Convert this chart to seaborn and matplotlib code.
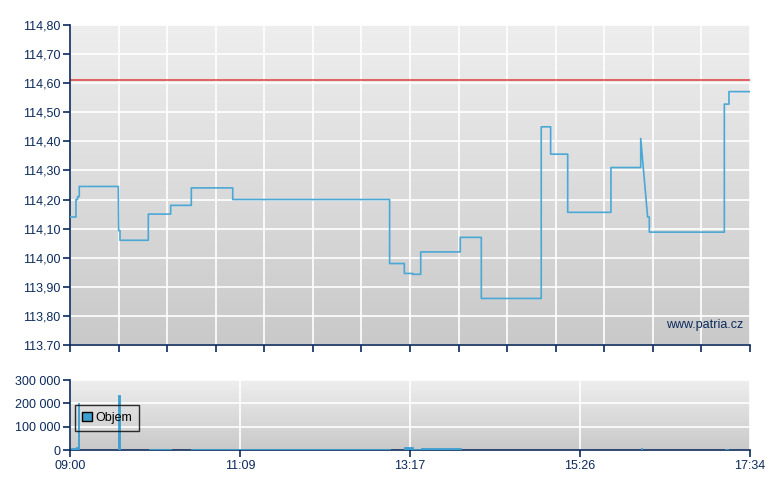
import numpy as np
import pandas as pd
import matplotlib
matplotlib.use('Agg')
import matplotlib.pyplot as plt
import seaborn as sns

# price path: minutes after 09:00 and price at each vertex
price_min = [0, 4.5, 4.5, 5.7, 5.7, 7.0, 7.0, 36.5, 36.8, 37.8, 37.8, 59.2, 59.2, 76.1, 76.1,
             91.7, 91.7, 123.0, 123.0, 241.6, 241.6, 252.7, 252.7, 259.0, 259.0, 265.1, 265.1,
             295.0, 295.0, 310.9, 310.9, 356.2, 356.2, 363.3, 363.3, 376.2, 376.2, 408.9, 408.9,
             431.4, 431.4, 436.6, 437.9, 437.9, 494.6, 494.6, 498.1, 498.1, 514.0]
price_val = [114.14, 114.14, 114.20, 114.20, 114.21, 114.21, 114.245, 114.245, 114.093, 114.093,
             114.06, 114.06, 114.15, 114.15, 114.18, 114.18, 114.24, 114.24, 114.20, 114.20,
             113.98, 113.98, 113.946, 113.946, 113.943, 113.943, 114.02, 114.02, 114.07, 114.07,
             113.86, 113.86, 114.45, 114.45, 114.356, 114.356, 114.156, 114.156, 114.31, 114.31,
             114.41, 114.14, 114.14, 114.088, 114.088, 114.528, 114.528, 114.571, 114.571]
prev_close = 114.61

# volume: start/end minute of each block and traded volume
vol_start = [0.8, 4.5, 6.0, 36.6, 59.7, 91.5, 252.5, 259.3, 265.3, 431.6, 495.0]
vol_end = [4.5, 6.0, 7.0, 37.6, 76.3, 242.0, 259.3, 265.3, 295.5, 432.6, 497.5]
vol_val = [7000, 11000, 201000, 236000, 3000, 3000, 13000, 3000, 8000, 8000, 5000]

time_labels = ['09:00', '11:09', '13:17', '15:26', '17:34']
price_ticks = [113.7, 113.8, 113.9, 114.0, 114.1, 114.2, 114.3, 114.4, 114.5, 114.6, 114.7, 114.8]

sns.set_theme(style='white')
plt.rcParams['font.family'] = ['Liberation Sans', 'DejaVu Sans']

navy = '#0c2a5c'
line_c = '#4aa8d6'

fig = plt.figure(figsize=(7.8, 4.9), dpi=100)
ax1 = fig.add_axes([70/780, 145/490, 680/780, 320/490])
ax2 = fig.add_axes([70/780, 40/490, 680/780, 70/490])

grad = np.linspace(0, 1, 256).reshape(-1, 1)
for ax in (ax1, ax2):
    ax.imshow(grad, extent=[0, 1, 0, 1], transform=ax.transAxes, aspect='auto',
              cmap=matplotlib.colors.LinearSegmentedColormap.from_list('bg', ['#eeeeee', '#c9c9c9']),
              zorder=0)
    ax.set_axisbelow(True)
    for s in ('top', 'right'):
        ax.spines[s].set_visible(False)
    for s in ('left', 'bottom'):
        ax.spines[s].set_color(navy)
        ax.spines[s].set_linewidth(1.2)
    ax.tick_params(axis='both', colors=navy, labelcolor=navy, labelsize=9, direction='out',
                   length=5, width=1.2, left=True, bottom=True, pad=2)
    ax.grid(True, color='white', linewidth=1.2)

# top chart: price
df = pd.DataFrame({'t': price_min, 'p': price_val})
sns.lineplot(data=df, x='t', y='p', ax=ax1, color=line_c, linewidth=1.2,
             estimator=None, sort=False, zorder=3)
ax1.axhline(prev_close, color='#e23a3a', linewidth=1.1, zorder=2)
ax1.set_xlim(0, 514)
ax1.set_ylim(113.7, 114.8)
ax1.set_xticks(np.linspace(0, 514, 15))
ax1.set_xticklabels([])
ax1.set_yticks(price_ticks)
ax1.set_yticklabels([f'{v:.2f}'.replace('.', ',') if v > 113.75 else f'{v:.2f}' for v in price_ticks])
ax1.set_xlabel('')
ax1.set_ylabel('')
ax1.text(0.99, 0.045, 'www.patria.cz', transform=ax1.transAxes, ha='right', va='bottom',
         color=navy, fontsize=9)

# bottom chart: volume
vol = pd.DataFrame({'s': vol_start, 'e': vol_end, 'v': vol_val})
ax2.bar(vol['s'], vol['v'], width=vol['e'] - vol['s'], align='edge', color='#3d9fd0',
        edgecolor='#3d9fd0', linewidth=0.6, label='Objem', zorder=3)
ax2.set_xlim(0, 514)
ax2.set_ylim(0, 300000)
ax2.set_xticks(np.linspace(0, 514, 5))
ax2.set_xticklabels(time_labels)
ax2.set_yticks([0, 100000, 200000, 300000])
ax2.set_yticklabels(['0', '100 000', '200 000', '300 000'])
leg = ax2.legend(loc='upper left', bbox_to_anchor=(0.007, 0.645), frameon=True, fancybox=False,
                 fontsize=9, handlelength=0.8, handleheight=0.8, handletextpad=0.3,
                 borderpad=0.55, borderaxespad=0, labelcolor='black')
leg.get_frame().set_edgecolor('black')
leg.get_frame().set_facecolor('none')
leg.get_frame().set_linewidth(1)
for h in leg.legend_handles:
    h.set_edgecolor('black')
    h.set_linewidth(1)

fig.savefig('out.png', dpi=100)
